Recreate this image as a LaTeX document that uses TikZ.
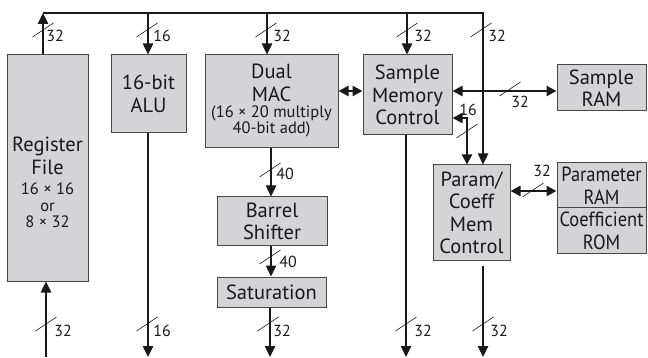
\documentclass[tikz,border=0pt]{standalone}
\usepackage{fontspec}
\setmainfont{PT Sans}
\newfontfamily\narrowfam{PT Sans}[FakeStretch=0.9]
\usetikzlibrary{arrows.meta}
\definecolor{boxfill}{RGB}{212,212,214}
\definecolor{boxline}{RGB}{70,70,70}
\definecolor{ink}{RGB}{25,25,25}
\newcommand{\mainsz}{\fontsize{20.5}{22.5}\selectfont}
\newcommand{\narrowsz}{\narrowfam\fontsize{20.5}{22.5}\selectfont}
\newcommand{\smallsz}{\fontsize{16.5}{16.5}\selectfont}
\newcommand{\lblsz}{\fontsize{16}{16}\selectfont}
\newcommand{\wm}[5]{\draw[slashline] (#1-10.5,#2+7) -- (#1+10.5,#2-7); \node[lbl] at (#3,#4) {#5};}
\begin{document}
\begin{tikzpicture}[x=1pt,y=-1pt,
  box/.style={draw=boxline, fill=boxfill, line width=1pt, inner sep=0pt, align=center, font=\mainsz, text=ink},
  txt/.style={inner sep=0pt, align=center, text=ink},
  bus/.style={line width=2.4pt, draw=ink},
  arr/.style={bus, -{Triangle[width=10pt,length=11pt]}},
  darr/.style={bus, {Triangle[width=10pt,length=10pt]}-{Triangle[width=10pt,length=10pt]}},
  slashline/.style={line width=0.6pt, draw=ink},
  lbl/.style={font=\lblsz, inner sep=0pt, text=ink}]
\useasboundingbox (0,0) rectangle (648,358);
% boxes
\node[box, minimum width=81pt, minimum height=226pt] (rf) at (47.5,168) {};
\node[txt, font=\mainsz] (rft) at (47.5,156) {Register\\File};
\node[txt, font=\smallsz] (rfs) at (47.5,205.5) {16 × 16\\or\\8 × 32};
\node[box, minimum width=75pt, minimum height=78pt] (alu) at (148.5,94) {16-bit\\ALU};
\node[box, minimum width=133pt, minimum height=93pt] (mac) at (271.5,101.5) {};
\node[txt, font=\mainsz] (mact) at (271.5,83) {Dual\\MAC};
\node[txt, font=\smallsz] (macs) at (271.5,121.5) {(16 × 20 multiply\\40-bit add)};
\node[box, minimum width=110pt, minimum height=49pt] (bsh) at (272,221.5) {Barrel\\Shifter};
\node[box, minimum width=109pt, minimum height=30pt] (sat) at (271.5,292) {Saturation};
\node[box, minimum width=89pt, minimum height=80pt] (smc) at (407.5,95) {Sample\\Memory\\Control};
\node[box, minimum width=89pt, minimum height=46pt] (sram) at (601.5,88) {Sample\\RAM};
\node[box, minimum width=77pt, minimum height=96pt] (pcm) at (471.5,213) {Param/\\Coeff\\Mem\\Control};
\node[box, font=\narrowsz, minimum width=89pt, minimum height=45pt] (pram) at (601.5,185.5) {Parameter\\RAM};
\node[box, font=\narrowsz, minimum width=89pt, minimum height=46pt] (crom) at (601.5,231) {Coefficient\\ROM};
% coordinates
\coordinate (xrf) at (43,13);
\coordinate (xalu) at (148,13);
\coordinate (xmac) at (267,13);
\coordinate (xsmc) at (407,13);
\coordinate (xbus) at (483,13);
\coordinate (brf) at (46,357);
\coordinate (balu) at (148,357);
\coordinate (bsat) at (270,357);
\coordinate (bsmc) at (406,357);
\coordinate (bpcm) at (483,357);
\coordinate (cmb) at (271,0);
\coordinate (r1) at (0,91);
\coordinate (r2) at (0,191);
\coordinate (x16) at (467,118);
% connectors
\draw[arr] (rf.north -| xrf) -- (xrf);
\draw[arr] (xrf) -- (xbus) -- (pcm.north -| xbus);
\draw[arr] (xalu) -- (alu.north -| xalu);
\draw[arr] (xmac) -- (mac.north -| xmac);
\draw[arr] (xsmc) -- (smc.north -| xsmc);
\draw[arr] (brf) -- (rf.south -| brf);
\draw[arr] (alu.south -| balu) -- (balu);
\draw[arr] (sat.south -| bsat) -- (bsat);
\draw[arr] (smc.south -| bsmc) -- (bsmc);
\draw[arr] ([yshift=-4pt]pcm.south -| bpcm) -- (bpcm);
\draw[arr] (mac.south -| cmb) -- (bsh.north -| cmb);
\draw[arr] (bsh.south -| cmb) -- (sat.north -| cmb);
\draw[darr] (mac.east |- r1) -- (smc.west |- r1);
\draw[darr] (smc.east |- r1) -- (sram.west |- r1);
\draw[darr] (pcm.north -| x16) -- (x16) -- (smc.east |- x16);
\draw[darr] (pcm.east |- r2) -- (pram.west |- r2);
% width marks
\wm{43}{30}{55}{36}{32}
\wm{147}{30}{162}{36}{16}
\wm{266}{30}{282}{36}{32}
\wm{407}{30}{423}{36}{32}
\wm{481}{30}{497}{36}{32}
\wm{46}{324}{63}{331}{32}
\wm{147}{324}{162}{331}{16}
\wm{268}{324}{282}{331}{32}
\wm{406}{324}{423}{331}{32}
\wm{483}{324}{499}{331}{32}
\wm{270}{170}{285}{174}{40}
\wm{270}{257}{288}{262}{40}
\wm{510}{89}{520}{102}{32}
\wm{467}{131}{468}{110}{16}
\wm{533}{190}{542}{171}{32}
\end{tikzpicture}
\end{document}
